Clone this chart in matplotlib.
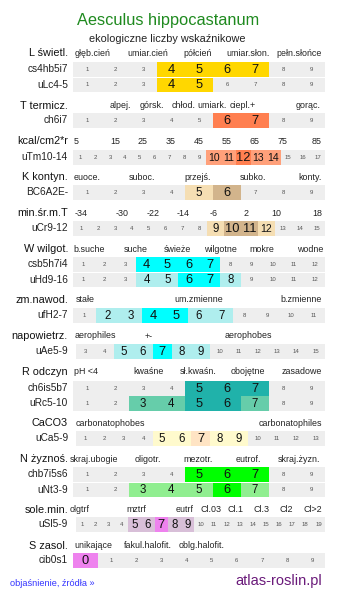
import matplotlib.pyplot as plt

plt.rcParams['font.family'] = ['Liberation Sans', 'DejaVu Sans']

# cell scales
s1_9 = list(range(1, 10))
s1_17 = list(range(1, 18))
s1_15 = list(range(1, 16))
s1_12 = list(range(1, 13))
s1_11 = list(range(1, 12))
s3_15 = list(range(3, 16))
s1_13 = list(range(1, 14))
s1_19 = list(range(1, 20))
s0_9 = list(range(0, 10))

# highlight level per cell: 0 = none, 1 = light, 2 = full
lev_cs4hb5i7 = [0, 0, 0, 2, 2, 2, 2, 0, 0]
lev_uLc = [0, 0, 0, 2, 2, 0, 0, 0, 0]
lev_ch6i7 = [0, 0, 0, 0, 0, 2, 2, 0, 0]
lev_uTm = [0] * 9 + [1, 1, 2, 1, 1, 0, 0, 0]
lev_BC6A2E = [0, 0, 0, 0, 1, 2, 0, 0, 0]
lev_uCr = [0] * 8 + [1, 2, 2, 1, 0, 0, 0]
lev_csb5h7i4 = [0, 0, 0, 2, 2, 2, 2, 0, 0, 0, 0, 0]
lev_uHd = [0, 0, 0, 1, 1, 2, 2, 1, 0, 0, 0, 0]
lev_ufH = [0, 1, 1, 2, 2, 1, 1, 0, 0, 0, 0]
lev_uAe = [0, 0, 1, 1, 2, 1, 1, 0, 0, 0, 0, 0, 0]
lev_ch6is5b7 = [0, 0, 0, 0, 2, 2, 2, 0, 0]
lev_uRc = [0, 0, 1, 1, 2, 2, 1, 0, 0]
lev_uCa = [0, 0, 0, 0, 1, 1, 2, 1, 1, 0, 0, 0, 0]
lev_chb7i5s6 = [0, 0, 0, 0, 2, 2, 2, 0, 0]
lev_uNt = [0, 0, 1, 1, 1, 2, 1, 0, 0]
lev_uSl = [0, 0, 0, 0, 1, 1, 2, 1, 1] + [0] * 10
lev_cib0s1 = [2] + [0] * 9

# (row name, scale, levels, light colour, full colour, top y, left x)
rows = [
    ('cs4hb5i7', s1_9, lev_cs4hb5i7, '#ffd700', '#ffd700', 62, 73),
    ('uLc4-5', s1_9, lev_uLc, '#ffd700', '#ffd700', 77.5, 73),
    ('ch6i7', s1_9, lev_ch6i7, '#ffa07a', '#ff7f50', 113, 73),
    ('uTm10-14', s1_17, lev_uTm, '#ffa07a', '#ff7f50', 150, 73),
    ('BC6A2E-', s1_9, lev_BC6A2E, '#f5deb3', '#d2b48c', 185, 73),
    ('uCr9-12', s1_15, lev_uCr, '#f5deb3', '#d2b48c', 221, 73),
    ('csb5h7i4', s1_12, lev_csb5h7i4, '#afeeee', '#00ffff', 257, 73),
    ('uHd9-16', s1_12, lev_uHd, '#afeeee', '#00ffff', 272.5, 73),
    ('ufH2-7', s1_11, lev_ufH, '#afeeee', '#00ffff', 308, 73),
    ('uAe5-9', s3_15, lev_uAe, '#afeeee', '#00ffff', 344, 76),
    ('ch6is5b7', s1_9, lev_ch6is5b7, '#66cdaa', '#20b2aa', 381, 73),
    ('uRc5-10', s1_9, lev_uRc, '#66cdaa', '#20b2aa', 396, 73),
    ('uCa5-9', s1_13, lev_uCa, '#fffacd', '#ffe4c4', 431, 76),
    ('chb7i5s6', s1_9, lev_chb7i5s6, '#90ee90', '#00ff00', 467, 73),
    ('uNt3-9', s1_9, lev_uNt, '#90ee90', '#00ff00', 482.5, 73),
    ('uSl5-9', s1_19, lev_uSl, '#d8bfd8', '#ee82ee', 517, 76),
    ('cib0s1', s0_9, lev_cib0s1, '#d8bfd8', '#ee82ee', 553, 73),
]

# (section title, y, [(category label, x centre)])
headers = [
    ('L świetl.', 53, [('głęb.cień', 93), ('umiar.cień', 148), ('półcień', 198),
                      ('umiar.słon.', 248), ('pełn.słońce', 299)]),
    ('T termicz.', 106, [('alpej.', 120), ('górsk.', 152), ('chłod.', 184),
                        ('umiark.', 212), ('ciepl.+', 243), ('gorąc.', 308)]),
    ('kcal/cm2*r', 141, [('5', 76), ('15', 115), ('25', 143), ('35', 171), ('45', 199),
                        ('55', 227), ('65', 255), ('75', 283), ('85', 317)]),
    ('K kontyn.', 177, [('euoce.', 87), ('suboc.', 142), ('przejś.', 198),
                       ('subko.', 253), ('konty.', 310)]),
    ('min.śr.m.T', 213, [('-34', 81), ('-30', 122), ('-22', 153), ('-14', 183),
                        ('-6', 214), ('2', 246), ('10', 276), ('18', 317)]),
    ('W wilgot.', 249, [('b.suche', 89), ('suche', 136), ('świeże', 177),
                       ('wilgotne', 220), ('mokre', 262), ('wodne', 310)]),
    ('zm.nawod.', 300, [('stałe', 85), ('um.zmienne', 199), ('b.zmienne', 301)]),
    ('napowietrz.', 336, [('aerophiles', 95), ('+-', 149), ('aerophobes', 248)]),
    ('R odczyn', 372, [('pH <4', 86), ('kwaśne', 149), ('sł.kwaśn.', 198),
                      ('obojętne', 248), ('zasadowe', 302)]),
    ('CaCO3', 423, [('carbonatophobes', 110), ('carbonatophiles', 290)]),
    ('N żyznoś.', 459, [('skraj.ubogie', 94), ('oligotr.', 148), ('mezotr.', 198),
                       ('eutrof.', 248), ('skraj.żyzn.', 299)]),
    ('sole.min.', 510, [('olgtrf', 80), ('mztrf', 136), ('eutrf', 185), ('Cl.03', 211),
                       ('Cl.1', 235), ('Cl.3', 262), ('Cl2', 286), ('Cl>2', 313)]),
    ('S zasol.', 546, [('unikające', 93), ('fakul.halofit.', 148), ('oblg.halofit.', 202)]),
]

W, H = 337, 598
RIGHT = 325
ROW_H = 14.5

fig = plt.figure(figsize=(W / 100, H / 100), dpi=100)
ax = fig.add_axes([0, 0, 1, 1])
ax.set_xlim(0, W)
ax.set_ylim(H, 0)
ax.axis('off')

ax.text(W / 2, 20, 'Aesculus hippocastanum', ha='center', va='center',
        fontsize=11.8, color='#1f8a1f')
ax.text(W / 2 - 1, 39, 'ekologiczne liczby wskaźnikowe', ha='center', va='center',
        fontsize=7.8, color='#222222')

for title, y, cats in headers:
    ax.text(68, y, title, ha='right', va='center', fontsize=7.8, color='#111111')
    for txt, x in cats:
        ax.text(x, y, txt, ha='center', va='center', fontsize=6.4, color='#222222')

for name, scale, levels, c_light, c_full, top, left in rows:
    n = len(scale)
    cw = (RIGHT - left) / n
    lefts = [left + i * cw for i in range(n)]
    colors = ['#eeeeee' if lv == 0 else (c_light if lv == 1 else c_full) for lv in levels]
    ax.bar(lefts, ROW_H, width=cw, bottom=top, align='edge', color=colors,
           linewidth=0)
    ax.text(68, top + ROW_H / 2, name, ha='right', va='center', fontsize=7.3,
            color='#222222')
    for x, lab, lv in zip(lefts, scale, levels):
        if lv == 0:
            ax.text(x + cw / 2, top + ROW_H / 2, str(lab), ha='center', va='center',
                    fontsize=4.3, color='#555555')
        else:
            fs = 9.3 if lv == 2 else 8.3
            if lab >= 10 and lv == 1:
                fs = 7.5
            ax.text(x + cw / 2, top + ROW_H / 2 + 0.5, str(lab), ha='center',
                    va='center', fontsize=fs, color='#111111')

ax.text(10, 584, 'objaśnienie, źródła »', ha='left', va='center', fontsize=6.6,
        color='#3333ff')
ax.text(322, 581, 'atlas-roslin.pl', ha='right', va='center', fontsize=10.5,
        color='#6a1a7a')

fig.savefig('out.png', dpi=100)
